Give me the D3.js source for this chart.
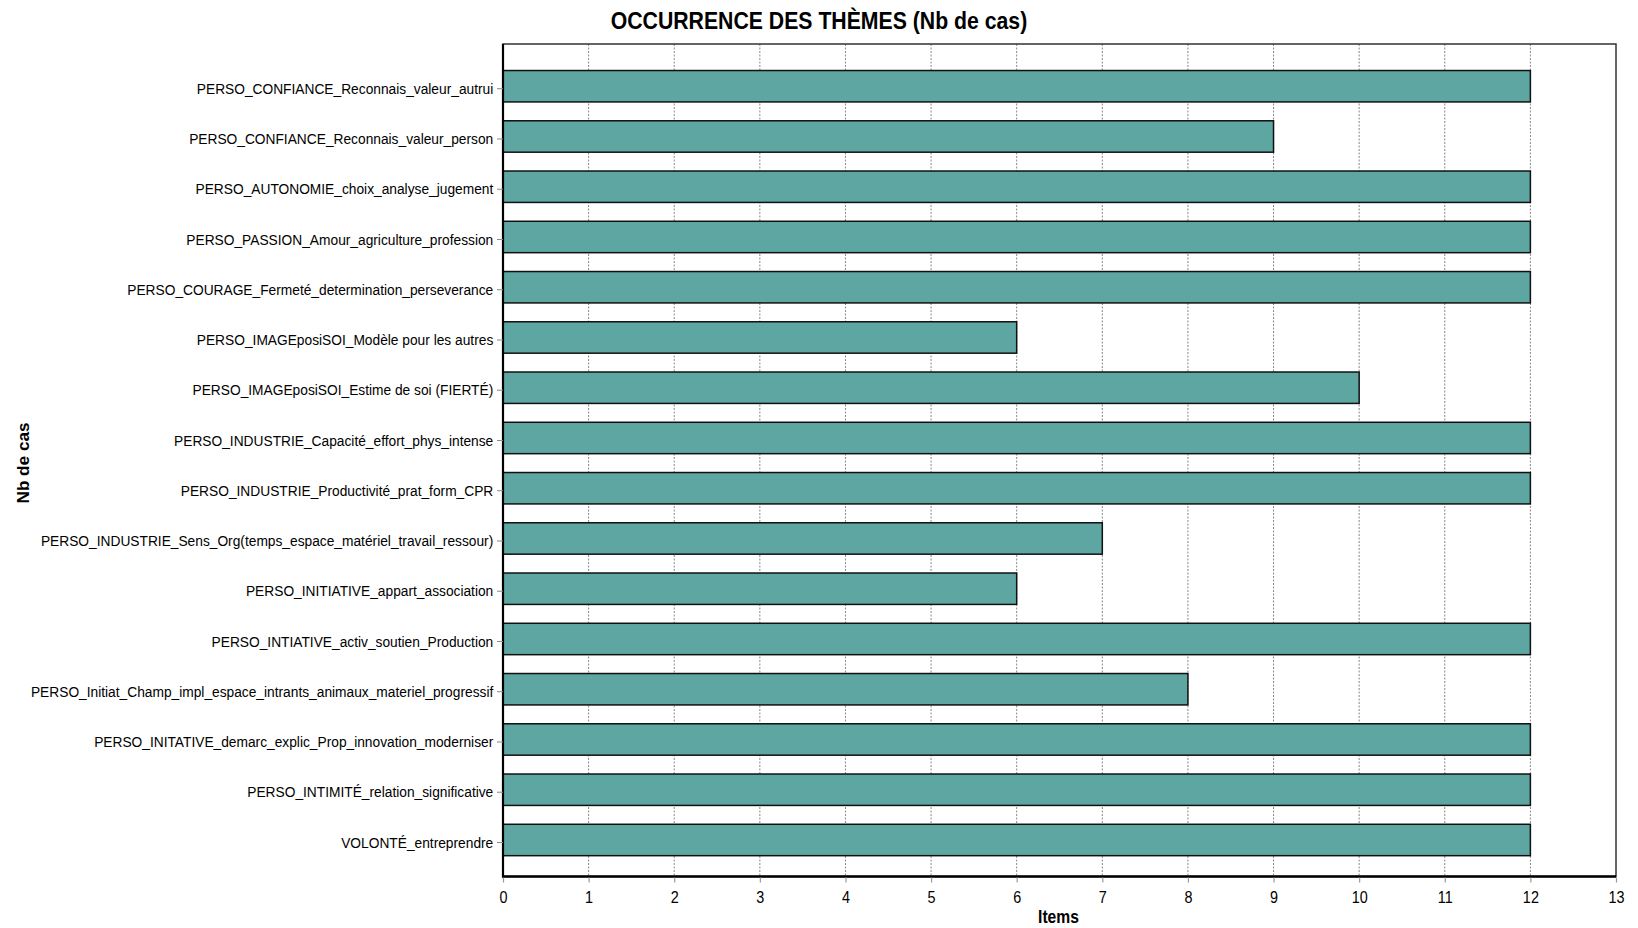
<!DOCTYPE html>
<html>
<head>
<meta charset="utf-8">
<script src="https://cdn.jsdelivr.net/npm/d3@7"></script>
<style>
  html, body { margin: 0; padding: 0; background: #fff; }
  svg { display: block; }
  text { font-family: "Liberation Sans", Arial, sans-serif; fill: #000; }
</style>
</head>
<body>
<svg id="chart" width="1638" height="928"></svg>
<script>
const categories = [
  "PERSO_CONFIANCE_Reconnais_valeur_autrui",
  "PERSO_CONFIANCE_Reconnais_valeur_person",
  "PERSO_AUTONOMIE_choix_analyse_jugement",
  "PERSO_PASSION_Amour_agriculture_profession",
  "PERSO_COURAGE_Fermeté_determination_perseverance",
  "PERSO_IMAGEposiSOI_Modèle pour les autres",
  "PERSO_IMAGEposiSOI_Estime de soi (FIERTÉ)",
  "PERSO_INDUSTRIE_Capacité_effort_phys_intense",
  "PERSO_INDUSTRIE_Productivité_prat_form_CPR",
  "PERSO_INDUSTRIE_Sens_Org(temps_espace_matériel_travail_ressour)",
  "PERSO_INITIATIVE_appart_association",
  "PERSO_INTIATIVE_activ_soutien_Production",
  "PERSO_Initiat_Champ_impl_espace_intrants_animaux_materiel_progressif",
  "PERSO_INITATIVE_demarc_explic_Prop_innovation_moderniser",
  "PERSO_INTIMITÉ_relation_significative",
  "VOLONTÉ_entreprendre"
];
const values = [12, 9, 12, 12, 12, 6, 10, 12, 12, 7, 6, 12, 8, 12, 12, 12];
const xTickValues = [0, 1, 2, 3, 4, 5, 6, 7, 8, 9, 10, 11, 12, 13];
const titleText = "OCCURRENCE DES THÈMES (Nb de cas)";
const xAxisTitle = "Items";
const yAxisTitle = "Nb de cas";

const svg = d3.select("#chart");
const L = 503, R = 1616, T = 44, B = 876.5;

const x = d3.scaleLinear().domain([0, 13]).range([L, R]);
const y = d3.scaleBand().domain(categories).range([61.1, 865.1])
  .paddingInner(0.375).paddingOuter(0.1875);

svg.append("rect").attr("width", 1638).attr("height", 928).attr("fill", "#fff");

// grid
svg.append("g").selectAll("line")
  .data(xTickValues.filter(d => d > 0 && d < 13))
  .join("line")
  .attr("x1", d => x(d)).attr("x2", d => x(d))
  .attr("y1", T).attr("y2", B)
  .attr("stroke", "#888").attr("stroke-width", 1)
  .attr("stroke-dasharray", "2,1.5");

// bars
svg.append("g").selectAll("rect")
  .data(values)
  .join("rect")
  .attr("x", x(0))
  .attr("y", (d, i) => y(categories[i]))
  .attr("width", d => x(d) - x(0))
  .attr("height", y.bandwidth())
  .attr("fill", "#5ea6a1")
  .attr("stroke", "#111")
  .attr("stroke-width", 1.5);

// frame
svg.append("rect").attr("x", L).attr("y", T).attr("width", R - L).attr("height", B - T)
  .attr("fill", "none").attr("stroke", "#333").attr("stroke-width", 1.5);
svg.append("line").attr("x1", L).attr("x2", L).attr("y1", T).attr("y2", B + 1)
  .attr("stroke", "#000").attr("stroke-width", 2.2);
svg.append("line").attr("x1", L - 1).attr("x2", R).attr("y1", B).attr("y2", B)
  .attr("stroke", "#000").attr("stroke-width", 2.5);

// x axis
const xAxis = svg.append("g").attr("transform", `translate(0,${B + 1})`)
  .call(d3.axisBottom(x).tickValues(xTickValues).tickFormat(d3.format("d")).tickSize(5).tickSizeOuter(0));
xAxis.select(".domain").remove();
xAxis.selectAll(".tick line").attr("stroke", "#999").attr("stroke-width", 1.2);
xAxis.selectAll(".tick text")
  .attr("y", 0).attr("dy", null)
  .attr("transform", "translate(0,25) scale(0.9,1)")
  .style("font-size", "16px").attr("fill", "#000");

// y axis
const yAxis = svg.append("g").attr("transform", `translate(${L},2.5)`)
  .call(d3.axisLeft(y).tickSize(6).tickSizeOuter(0));
yAxis.select(".domain").remove();
yAxis.selectAll(".tick line").attr("stroke", "#888").attr("stroke-width", 1);
yAxis.selectAll(".tick text")
  .attr("x", -10.6).attr("dy", "0.35em")
  .attr("transform", "scale(0.918,1)")
  .style("font-size", "15px").attr("fill", "#000");

// title
svg.append("g").attr("transform", "translate(819,28.5) scale(0.885,1)")
  .append("text").attr("text-anchor", "middle")
  .style("font-size", "24px").style("font-weight", "bold")
  .text(titleText);

// x axis title
svg.append("g").attr("transform", "translate(1058.5,923) scale(0.87,1)")
  .append("text").attr("text-anchor", "middle")
  .style("font-size", "18px").style("font-weight", "bold")
  .text(xAxisTitle);

// y axis title
svg.append("g").attr("transform", "translate(28.5,463) rotate(-90)")
  .append("text").attr("text-anchor", "middle")
  .attr("textLength", 81).attr("lengthAdjust", "spacingAndGlyphs")
  .style("font-size", "16px").style("font-weight", "bold")
  .text(yAxisTitle);
</script>
</body>
</html>
